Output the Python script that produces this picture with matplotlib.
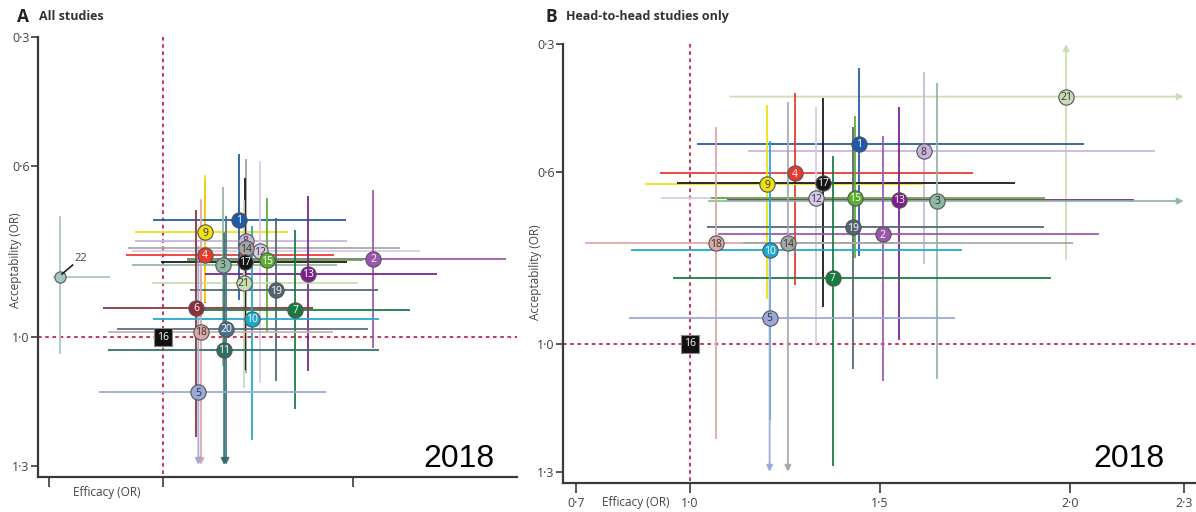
import numpy as np
import matplotlib
matplotlib.use("Agg")
import matplotlib.pyplot as plt

plt.rcParams['font.family'] = ['Open Sans', 'DejaVu Sans']

nan = np.nan

# treatment colours (same numbering in both panels)
COLORS = {1: '#1f5aa6', 2: '#9b57b0', 3: '#8fb8a2', 4: '#e63a2e', 5: '#9ba8d8',
          6: '#8c2f3b', 7: '#177a3f', 8: '#c9b3da', 9: '#f0e010', 10: '#1ca9d1',
          11: '#2f6f63', 12: '#d8c9e6', 13: '#7b1f8d', 14: '#a7a7a7', 15: '#5cae2f',
          16: '#111111', 17: '#151515', 18: '#dba7a7', 19: '#4f6571', 20: '#4a7088',
          21: '#cadcb3', 22: '#a8c6c6'}
LIGHT = {3, 5, 8, 9, 12, 14, 18, 21}

# --- panel A: all studies ---
a_ids = [22, 4, 9, 1, 8, 12, 14, 2, 15, 3, 17, 13, 21, 19, 6, 7, 10, 18, 20, 11, 5, 16]
a_eff = [0.729, 1.111, 1.111, 1.201, 1.218, 1.255, 1.218, 1.554, 1.273, 1.157, 1.216,
         1.382, 1.213, 1.297, 1.087, 1.348, 1.235, 1.100, 1.166, 1.161, 1.093, 1.0]
a_acc = [0.860, 0.808, 0.756, 0.727, 0.775, 0.800, 0.793, 0.817, 0.821, 0.831, 0.825,
         0.852, 0.873, 0.891, 0.932, 0.936, 0.957, 0.988, 0.981, 1.030, 1.129, 1.0]
a_eff_lo = [0.711, 0.903, 0.926, 0.973, 0.926, 0.918, 0.909, 1.062, 1.062, 0.918, 0.995,
            1.111, 0.970, 1.071, 0.843, 1.089, 0.973, 0.856, 0.880, 0.856, 0.832, nan]
a_eff_hi = [0.861, 1.450, 1.330, 1.482, 1.485, 1.676, 1.625, 1.903, 1.527, 1.457, 1.485,
            1.720, 1.514, 1.567, 1.396, 1.650, 1.569, 1.448, 1.540, 1.569, 1.429, nan]
a_acc_lo = [0.717, 0.633, 0.623, 0.573, 0.587, 0.589, 0.585, 0.657, 0.676, 0.649, 0.629,
            0.672, 0.680, 0.723, 0.703, 0.750, 0.742, 0.680, 0.719, 0.758, 0.789, nan]
a_acc_hi = [1.039, 0.921, 0.917, 0.913, 1.084, 1.107, 1.084, 1.026, 0.991, 1.068, 1.076,
            1.080, 1.119, 1.103, 1.232, 1.168, 1.239, 1.298, 1.298, 1.298, 1.298, nan]
a_down = [18, 20, 11, 5]

# --- panel B: head-to-head studies only ---
b_ids = [21, 1, 8, 4, 9, 17, 12, 15, 13, 3, 19, 2, 18, 14, 10, 7, 5, 16]
b_eff = [1.990, 1.445, 1.615, 1.276, 1.204, 1.350, 1.333, 1.434, 1.551, 1.651, 1.428,
         1.507, 1.069, 1.258, 1.210, 1.376, 1.210, 1.0]
b_acc = [0.423, 0.534, 0.551, 0.602, 0.628, 0.624, 0.661, 0.659, 0.664, 0.667, 0.728,
         0.745, 0.766, 0.766, 0.782, 0.846, 0.940, 1.0]
b_eff_lo = [1.106, 1.020, 1.153, 0.922, 0.883, 0.966, 0.925, 1.056, 1.097, 1.050, 1.045,
            1.073, 0.724, 1.140, 0.846, 0.955, 0.841, nan]
b_eff_hi = [2.300, 2.037, 2.223, 1.744, 1.615, 1.856, 1.600, 1.934, 2.169, 2.300, 1.931,
            2.077, 1.554, 2.007, 1.716, 1.951, 1.699, nan]
b_acc_lo = [0.300, 0.355, 0.365, 0.415, 0.443, 0.427, 0.447, 0.468, 0.448, 0.390, 0.495,
            0.515, 0.493, 0.437, 0.526, 0.561, 0.780, nan]
b_acc_hi = [0.803, 0.796, 0.813, 0.863, 0.897, 0.915, 1.002, 0.800, 0.991, 1.083, 1.059,
            1.088, 1.222, 1.300, 1.178, 1.287, 1.300, nan]
b_down = [14, 5]
b_right = [21, 3]
b_up = [21]

y_ticks = [0.3, 0.6, 1.0, 1.3]
b_x_ticks = [0.7, 1.0, 1.5, 2.0, 2.3]
a_x_ticks = [0.7, 1.0, 1.5]


def lancet(v):
    return f"{v:.1f}".replace('.', '\u00b7')


def seg(ax, x0, y0, x1, y1, c, arrow, z):
    if arrow:
        ax.annotate('', xy=(x1, y1), xytext=(x0, y0), zorder=z, annotation_clip=False,
                    arrowprops=dict(arrowstyle='-|>', color=c, lw=1.4, alpha=0.9,
                                    mutation_scale=9, shrinkA=0, shrinkB=0))
    else:
        ax.plot([x0, x1], [y0, y1], color=c, lw=1.4, alpha=0.9, zorder=z,
                solid_capstyle='butt')


def draw_panel(ax, ids, eff, acc, elo, ehi, alo, ahi, down=(), right=(), up=()):
    for i, k in enumerate(ids):
        c = COLORS[k]
        if np.isnan(elo[i]):
            continue
        seg(ax, elo[i], acc[i], ehi[i], acc[i], c, k in right, 2)
        if k in up:
            seg(ax, eff[i], ahi[i], eff[i], alo[i], c, True, 2)
        else:
            seg(ax, eff[i], alo[i], eff[i], ahi[i], c, k in down, 2)

    for i, k in enumerate(ids):
        c = COLORS[k]
        z = 10 + i
        if k == 16:
            ax.plot(eff[i], acc[i], 's', ms=13, mfc='#111111', mec='#888888', mew=0.8, zorder=z)
            ax.text(eff[i], acc[i], '16', color='white', fontsize=7.5, ha='center',
                    va='center', zorder=z + 0.5)
        elif k == 22:
            ax.plot(eff[i], acc[i], 'o', ms=8, mfc=c, mec='#556666', mew=0.9, zorder=z)
        else:
            ax.plot(eff[i], acc[i], 'o', ms=11, mfc=c, mec='#555555', mew=0.8, zorder=z)
            ax.text(eff[i], acc[i] + 0.002, str(k), color='#333333' if k in LIGHT else 'white',
                    fontsize=7.5, ha='center', va='center', zorder=z + 0.5)


def style_axes(ax, xlim, xticks, xlabels, label_y):
    ax.set_xlim(*xlim)
    ax.set_ylim(1.326, 0.29)
    for s in ['top', 'right']:
        ax.spines[s].set_visible(False)
    for s in ['left', 'bottom']:
        ax.spines[s].set_color('#3a3a3a')
        ax.spines[s].set_linewidth(1.6)
    ax.spines['left'].set_bounds(1.326, 0.3)
    ax.set_yticks(y_ticks)
    ax.set_yticklabels([lancet(v) for v in y_ticks])
    ax.set_xticks(xticks)
    ax.set_xticklabels(xlabels)
    ax.tick_params(axis='y', direction='out', length=5, width=1.2, color='#3a3a3a',
                   labelsize=9, labelcolor='#444444', pad=1)
    ax.tick_params(axis='x', direction='out', length=7, width=1.2, color='#3a3a3a',
                   labelsize=9, labelcolor='#444444', pad=3)
    ref = dict(color='#c8234a', lw=1.3, ls=(0, (2, 2)), zorder=1.5)
    ax.plot([1.0, 1.0], [0.3, 1.326], **ref)
    ax.plot([xlim[0], xlim[1]], [1.0, 1.0], **ref)
    ax.set_ylabel('Acceptability (OR)', fontsize=8.5, color='#444444')
    ax.yaxis.set_label_coords(-0.033, label_y)


fig = plt.figure(figsize=(11.96, 5.12), dpi=100)
axA = fig.add_axes([0.0318, 0.0684, 0.4005, 0.868])
axB = fig.add_axes([0.4707, 0.0566, 0.5293, 0.8658])

style_axes(axA, (0.671, 1.932), a_x_ticks, ['', '', ''], 0.488)
draw_panel(axA, a_ids, a_eff, a_acc, a_eff_lo, a_eff_hi, a_acc_lo, a_acc_hi, down=a_down)
axA.plot([0.734, 0.762], [0.853, 0.832], color='#222222', lw=1.2, zorder=30)
axA.text(0.768, 0.830, '22', fontsize=8, color='#444444', ha='left', va='bottom')
axA.text(0.853, 1.363, 'Efficacy (OR)', fontsize=8.5, color='#444444', ha='center',
         va='center', clip_on=False)
axA.text(1.780, 1.283, '2018', fontsize=23, family='Liberation Sans', ha='center', va='center')

style_axes(axB, (0.666, 2.332), b_x_ticks, [lancet(v) for v in b_x_ticks], 0.476)
draw_panel(axB, b_ids, b_eff, b_acc, b_eff_lo, b_eff_hi, b_acc_lo, b_acc_hi,
           down=b_down, right=b_right, up=b_up)
axB.text(0.858, 1.372, 'Efficacy (OR)', fontsize=8.5, color='#444444', ha='center',
         va='center', clip_on=False)
axB.text(2.155, 1.270, '2018', fontsize=23, family='Liberation Sans', ha='center', va='center')

fig.text(0.014, 0.967, 'A', fontsize=12.5, weight='bold', color='#222222', va='center')
fig.text(0.033, 0.967, 'All studies', fontsize=9, weight='bold', color='#333333', va='center')
fig.text(0.456, 0.967, 'B', fontsize=12.5, weight='bold', color='#222222', va='center')
fig.text(0.473, 0.967, 'Head-to-head studies only', fontsize=9, weight='bold',
         color='#333333', va='center')

fig.savefig('out.png', dpi=100)
